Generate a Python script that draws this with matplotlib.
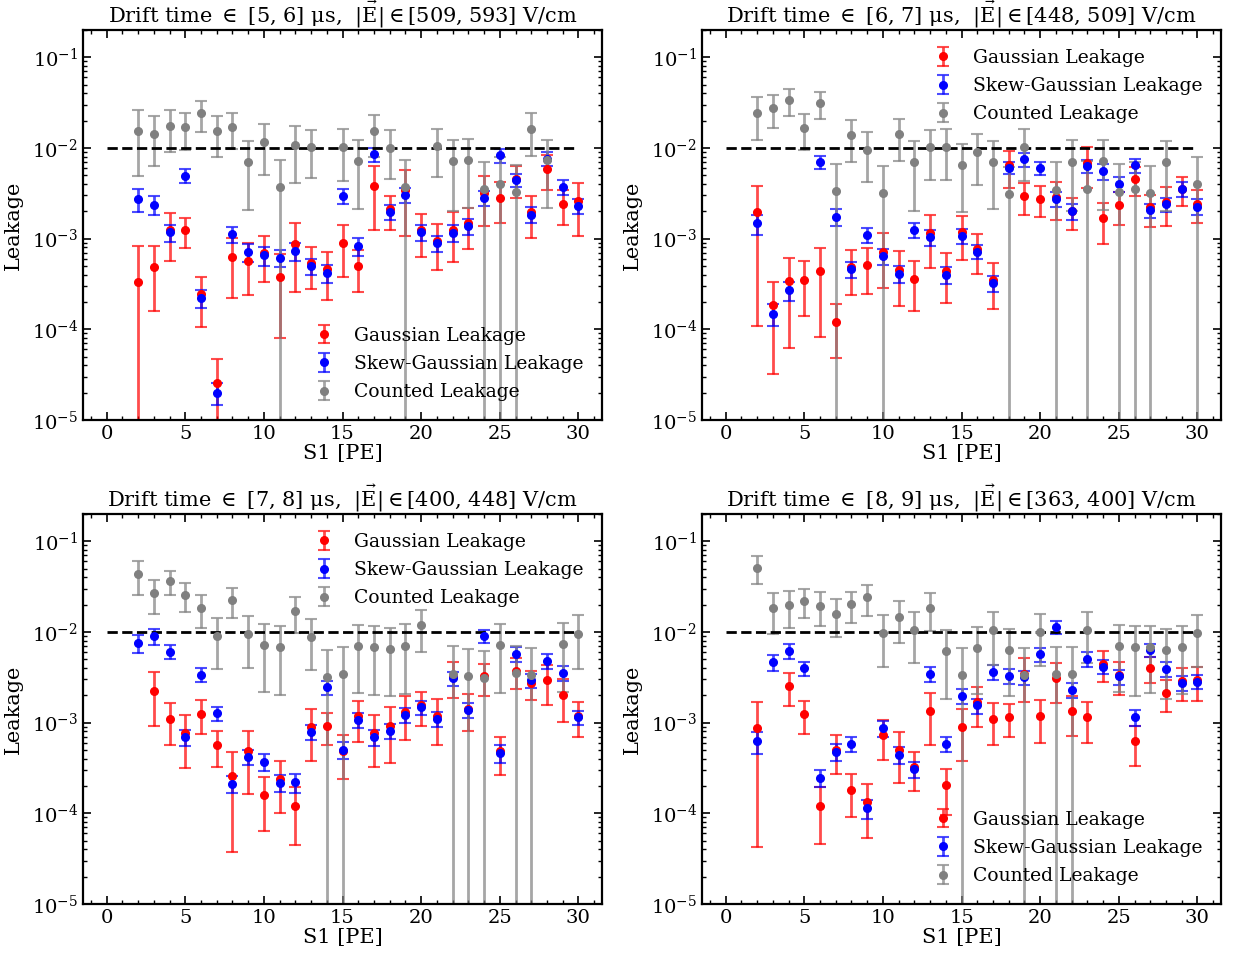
import numpy as np
import matplotlib
matplotlib.use('Agg')
import matplotlib.pyplot as plt
from matplotlib.ticker import MultipleLocator, LogLocator, NullFormatter

plt.rcParams['font.family'] = 'DejaVu Serif'
plt.rcParams['mathtext.fontset'] = 'dejavuserif'

s1 = np.arange(2, 31)
nan = np.nan

# drift time 5-6 us
gauss_56 = [3.3e-4, 4.9e-4, 1.24e-3, 1.24e-3, 2.44e-4, 2.55e-5, 6.2e-4, 5.7e-4, 6.95e-4, 3.8e-4,
            8.7e-4, 5.4e-4, 4.6e-4, 8.95e-4, 5.05e-4, 3.76e-3, 2.12e-3, 3.43e-3, 1.26e-3, 9.5e-4,
            1.25e-3, 1.47e-3, 3.15e-3, 2.84e-3, 4.6e-3, 1.98e-3, 5.9e-3, 2.4e-3, 2.57e-3]
gauss_56_err = [4.9e-4, 3.3e-4, 6.7e-4, 4.6e-4, 1.37e-4, 2.1e-5, 4.0e-4, 3.3e-4, 3.65e-4, 3.0e-4,
                6.1e-4, 2.65e-4, 2.5e-4, 5.2e-4, 2.45e-4, 2.5e-3, 8.6e-4, 2.35e-3, 6.3e-4, 5e-4,
                7e-4, 7.1e-4, 1.78e-3, 1.37e-3, 1.8e-3, 9.6e-4, 2.5e-3, 1e-3, 1.5e-3]
skew_56 = [2.73e-3, 2.37e-3, 1.175e-3, 4.97e-3, 2.21e-4, 2.01e-5, 1.117e-3, 7.19e-4, 6.56e-4, 6.18e-4,
           7.31e-4, 4.97e-4, 4.2e-4, 2.97e-3, 8.24e-4, 8.59e-3, 1.98e-3, 3.05e-3, 1.184e-3, 8.89e-4,
           1.164e-3, 1.377e-3, 2.84e-3, 8.3e-3, 4.45e-3, 1.84e-3, 7.63e-3, 3.73e-3, 2.31e-3]
skew_56_err = [7.7e-4, 5.5e-4, 2.5e-4, 8.7e-4, 5.1e-5, 5.5e-6, 2.3e-4, 1.6e-4, 1.52e-4, 1.37e-4,
               1.67e-4, 1.03e-4, 9.3e-5, 5.6e-4, 1.84e-4, 1.5e-3, 3.8e-4, 5.8e-4, 2.35e-4, 1.7e-4,
               2.35e-4, 2.8e-4, 5.2e-4, 1.5e-3, 7.4e-4, 3.7e-4, 1.35e-3, 7.3e-4, 4.5e-4]
count_56 = [0.0154, 0.0144, 0.0175, 0.017, 0.024, 0.0153, 0.0171, 6.95e-3, 0.0116, 3.73e-3,
            0.0107, 0.0103, nan, 0.0103, 7.1e-3, 0.0154, 0.0101, 3.73e-3, nan, 0.0104,
            7.2e-3, 7.4e-3, 3.54e-3, 3.99e-3, 3.26e-3, 0.0163, 7.3e-3, nan, nan]
count_56_err = [0.0105, 0.008, 0.0085, 0.0075, 0.009, 0.0073, 0.0073, 0.0049, 0.0066, 3.73e-3,
                0.0066, 0.0056, nan, 0.006, 0.005, 0.0075, 0.0055, 3.73e-3, nan, 0.0056,
                0.0052, 0.0052, 3.54e-3, 3.99e-3, 3.26e-3, 0.0081, 0.0051, nan, nan]

# drift time 6-7 us
gauss_67 = [1.98e-3, 1.84e-4, 3.37e-4, 3.51e-4, 4.38e-4, 1.2e-4, 4.92e-4, 5.18e-4, 7.19e-4, 4.53e-4,
            3.6e-4, 1.154e-3, 4.45e-4, 1.17e-3, 7.69e-4, 3.51e-4, 6.45e-3, 2.97e-3, 2.77e-3, 2.9e-3,
            2.03e-3, 6.9e-3, 1.67e-3, 2.34e-3, 4.53e-3, 2.21e-3, 2.55e-3, 3.52e-3, 2.44e-3]
gauss_67_err = [1.87e-3, 1.52e-4, 2.75e-4, 2.12e-4, 3.55e-4, 7.2e-5, 2.5e-4, 2.7e-4, 4.3e-4, 2.7e-4,
                2.02e-4, 6.75e-4, 2.5e-4, 5.9e-4, 3.63e-4, 1.85e-4, 2.8e-3, 1.13e-3, 1.02e-3, 1.29e-3,
                7.85e-4, 3.25e-3, 8e-4, 9.1e-4, 1.6e-3, 8.5e-4, 1.18e-3, 1.25e-3, 9.7e-4]
skew_67 = [1.47e-3, 1.49e-4, 2.69e-4, nan, 7.02e-3, 1.75e-3, 4.61e-4, 1.107e-3, 6.4e-4, 4.09e-4,
           1.256e-3, 1.035e-3, 4.02e-4, 1.08e-3, 7.19e-4, 3.23e-4, 6.08e-3, 7.5e-3, 5.98e-3, 2.73e-3,
           2.01e-3, 6.34e-3, 5.59e-3, 4.05e-3, 6.5e-3, 2.06e-3, 2.4e-3, 3.57e-3, 2.26e-3]
skew_67_err = [3.7e-4, 3.95e-5, 6.15e-5, nan, 1.22e-3, 3.65e-4, 9.7e-5, 2.2e-4, 1.26e-4, 8.5e-5,
               2.3e-4, 2e-4, 8.3e-5, 2e-4, 1.3e-4, 6.6e-5, 9.3e-4, 1.33e-3, 9.9e-4, 5.1e-4,
               3.85e-4, 1.07e-3, 1.1e-3, 7.6e-4, 1.14e-3, 3.7e-4, 4.3e-4, 6.6e-4, 4.55e-4]
count_67 = [0.0244, 0.0277, 0.0337, 0.0167, 0.031, 3.37e-3, 0.0138, 9.6e-3, 3.2e-3, 0.0141,
            6.95e-3, 0.0102, 0.0102, 6.5e-3, 9.03e-3, 7.0e-3, 3.1e-3, 0.0103, nan, 3.48e-3,
            7.08e-3, 3.57e-3, 7.2e-3, 3.31e-3, 3.52e-3, 3.18e-3, 6.95e-3, nan, 3.99e-3]
count_67_err = [0.012, 0.0111, 0.0112, 0.0072, 0.01, 3.37e-3, 0.0068, 0.0054, 3.2e-3, 0.007,
                4.95e-3, 0.00575, 0.0058, 0.00455, 0.0051, 0.00485, 3.1e-3, 0.00595, nan, 3.48e-3,
                5.05e-3, 3.57e-3, 5.15e-3, 3.31e-3, 3.52e-3, 3.18e-3, 4.95e-3, nan, 3.99e-3]

# drift time 7-8 us
gauss_78 = [nan, 2.25e-3, 1.107e-3, 7.69e-4, 1.256e-3, 5.64e-4, 2.57e-4, 4.84e-4, 1.59e-4, 2.4e-4,
            1.2e-4, 8.89e-4, 9.12e-4, 4.87e-4, 1.175e-3, 7.69e-4, 9.27e-4, 1.31e-3, 1.55e-3, 1.19e-3,
            3.23e-3, 1.425e-3, 3.23e-3, 4.84e-4, 3.73e-3, 2.73e-3, 2.97e-3, 2.03e-3, 1.19e-3]
gauss_78_err = [nan, 1.34e-3, 5.4e-4, 4.5e-4, 5e-4, 2.43e-4, 2.2e-4, 3.2e-4, 9.5e-5, 1.4e-4,
                7.5e-5, 5.15e-4, 3.5e-4, 2.47e-4, 5.6e-4, 4.45e-4, 5.7e-4, 6.6e-4, 6.2e-4, 6.3e-4,
                1.38e-3, 6.2e-4, 1.24e-3, 2.17e-4, 1.4e-3, 9.7e-4, 1.39e-3, 1.02e-3, 4.9e-4]
skew_78 = [7.57e-3, 9.03e-3, 6.08e-3, 6.95e-4, 3.37e-3, 1.276e-3, 2.12e-4, 4.2e-4, 3.7e-4, 2.17e-4,
           2.21e-4, 7.96e-4, 2.47e-3, 5.01e-4, 1.08e-3, 6.95e-4, 8.17e-4, 1.225e-3, 1.486e-3, 1.096e-3,
           3.1e-3, 1.39e-3, 9.12e-3, 4.65e-4, 5.72e-3, 2.92e-3, 4.84e-3, 3.57e-3, 1.145e-3]
skew_78_err = [1.78e-3, 1.8e-3, 1.08e-3, 1.38e-4, 5.9e-4, 2.26e-4, 4.6e-5, 8.3e-5, 8e-5, 4.6e-5,
               5.2e-5, 1.5e-4, 4.35e-4, 1.08e-4, 2.1e-4, 1.4e-4, 1.58e-4, 2.35e-4, 2.65e-4, 2e-4,
               5.5e-4, 2.6e-4, 1.5e-3, 1.02e-4, 1.03e-3, 5e-4, 9e-4, 6.85e-4, 2.1e-4]
count_78 = [0.0434, 0.0266, 0.0366, 0.0255, 0.0182, 9.12e-3, 0.0225, 9.59e-3, 7.26e-3, 6.79e-3,
            0.0171, 8.89e-3, 3.15e-3, 3.43e-3, 7.02e-3, 6.79e-3, 6.5e-3, 7.08e-3, 0.0118, nan,
            3.48e-3, 3.28e-3, 3.1e-3, 7.2e-3, 3.52e-3, 3.37e-3, nan, 7.38e-3, 9.59e-3]
count_78_err = [0.0176, 0.0107, 0.011, 0.0091, 0.0072, 5.2e-3, 8.3e-3, 5.6e-3, 5.1e-3, 4.75e-3,
                7.45e-3, 5.1e-3, 3.15e-3, 3.43e-3, 4.9e-3, 4.75e-3, 4.55e-3, 5.03e-3, 5.85e-3, nan,
                3.48e-3, 3.28e-3, 3.1e-3, 5.1e-3, 3.52e-3, 3.37e-3, nan, 5.2e-3, 5.65e-3]

# drift time 8-9 us
gauss_89 = [8.73e-4, nan, 2.51e-3, 1.245e-3, 1.2e-4, 5.05e-4, 1.8e-4, 1.33e-4, 7.26e-4, 5.05e-4,
            3.26e-4, 1.355e-3, 2.03e-4, 8.95e-4, 1.686e-3, 1.107e-3, 1.145e-3, 3.41e-3, 1.19e-3, 3.1e-3,
            1.333e-3, 1.145e-3, 4.45e-3, 3.34e-3, 6.24e-4, 4.05e-3, 2.12e-3, 2.9e-3, 2.95e-3]
gauss_89_err = [8.3e-4, nan, 9.9e-4, 4.9e-4, 7.45e-5, 2.32e-4, 8.9e-5, 7.9e-5, 3.4e-4, 2.9e-4,
                1.5e-4, 7.95e-4, 1.08e-4, 5.2e-4, 8e-4, 5.4e-4, 4.5e-4, 1.73e-3, 5.9e-4, 1.45e-3,
                6.25e-4, 5.55e-4, 1.66e-3, 1.31e-3, 2.95e-4, 1.31e-3, 8.1e-4, 1.15e-3, 1.2e-3]
skew_89 = [6.24e-4, 4.65e-3, 6.24e-3, 3.99e-3, 2.47e-4, 4.76e-4, 5.88e-4, 1.135e-4, 8.73e-4, 4.45e-4,
           3.05e-4, 3.43e-3, 5.88e-4, 1.98e-3, 1.55e-3, 3.66e-3, 3.28e-3, 3.18e-3, 5.72e-3, 0.01135,
           2.31e-3, 5.05e-3, 4.16e-3, 3.23e-3, 1.145e-3, 6.34e-3, 3.92e-3, 2.77e-3, 2.84e-3]
skew_89_err = [1.7e-4, 9e-4, 1.17e-3, 7.2e-4, 5.35e-5, 9.9e-5, 1.12e-4, 2.6e-5, 1.7e-4, 9.9e-5,
               6.1e-5, 6.5e-4, 1.12e-4, 3.7e-4, 2.9e-4, 6.9e-4, 6.2e-4, 5.7e-4, 1e-3, 1.8e-3,
               4.45e-4, 9.45e-4, 7.4e-4, 6e-4, 2.2e-4, 1.07e-3, 7.1e-4, 5.1e-4, 4.85e-4]
count_89 = [0.0514, 0.0182, 0.0198, 0.0221, 0.0195, 0.0159, 0.0201, 0.024, 9.75e-3, 0.01472,
            0.0106, 0.0185, 6.18e-3, 3.37e-3, 6.73e-3, 0.01052, 6.4e-3, 3.37e-3, 9.92e-3, 3.43e-3,
            3.43e-3, 0.0105, nan, 7.08e-3, 6.79e-3, 6.9e-3, 6.34e-3, 6.9e-3, 9.67e-3]
count_89_err = [0.0172, 8.6e-3, 8.7e-3, 8e-3, 7.8e-3, 7e-3, 7.5e-3, 9e-3, 5.6e-3, 7.1e-3,
                6e-3, 8.25e-3, 4.35e-3, 3.37e-3, 4.65e-3, 6.15e-3, 4.45e-3, 3.37e-3, 5.7e-3, 3.43e-3,
                3.43e-3, 6e-3, nan, 4.9e-3, 4.8e-3, 4.8e-3, 4.5e-3, 4.85e-3, 5.55e-3]

drift_bins = [(5, 6), (6, 7), (7, 8), (8, 9)]
field_bins = [(509, 593), (448, 509), (400, 448), (363, 400)]
legend_locs = ['lower right', 'upper right', 'upper right', 'lower right']

panels = [
    (gauss_56, gauss_56_err, skew_56, skew_56_err, count_56, count_56_err),
    (gauss_67, gauss_67_err, skew_67, skew_67_err, count_67, count_67_err),
    (gauss_78, gauss_78_err, skew_78, skew_78_err, count_78, count_78_err),
    (gauss_89, gauss_89_err, skew_89, skew_89_err, count_89, count_89_err),
]

W, H = 1233, 956
boxes = [(83, 30), (702, 30), (83, 514), (702, 514)]
ax_w, ax_h = 519, 390

fig = plt.figure(figsize=(W / 100, H / 100), dpi=100)


def draw_series(ax, y, err, color, label):
    y = np.asarray(y, dtype=float)
    err = np.asarray(err, dtype=float)
    # bars that reach zero are cut just above it so they run off the log axis
    lo = np.where(y - err <= 0, y * (1 - 1e-6), err)
    eb = ax.errorbar(s1, y, yerr=[lo, err], fmt='o', color=color, ms=5.5,
                     elinewidth=2, capsize=4, capthick=1.5, label=label)
    for art in list(eb[1]) + list(eb[2]):
        art.set_alpha(0.7)


for i, (g, ge, sk, ske, c, ce) in enumerate(panels):
    x0, y0 = boxes[i]
    ax = fig.add_axes([x0 / W, 1 - (y0 + ax_h) / H, ax_w / W, ax_h / H])

    draw_series(ax, g, ge, 'red', 'Gaussian Leakage')
    draw_series(ax, sk, ske, 'blue', 'Skew-Gaussian Leakage')
    draw_series(ax, c, ce, 'grey', 'Counted Leakage')
    ax.hlines(1e-2, 0, 30, colors='k', linestyles='--', lw=2)

    ax.set_yscale('log')
    ax.set_ylim(1e-5, 0.2)
    ax.set_xlim(-1.5, 31.5)
    ax.xaxis.set_major_locator(MultipleLocator(5))
    ax.xaxis.set_minor_locator(MultipleLocator(1))
    ax.yaxis.set_minor_locator(LogLocator(base=10, subs=np.arange(2, 10)))
    ax.yaxis.set_minor_formatter(NullFormatter())
    ax.tick_params(which='both', direction='in', top=True, right=True, labelsize=14)
    ax.tick_params(which='major', length=6, width=1.2)
    ax.tick_params(which='minor', length=3, width=1)
    for sp in ax.spines.values():
        sp.set_linewidth(1.6)

    d0, d1 = drift_bins[i]
    e0, e1 = field_bins[i]
    ax.set_title(r'Drift time $\in$ [%d, %d] μs,  $|\vec{\mathrm{E}}|\in$[%d, %d] V/cm'
                 % (d0, d1, e0, e1), fontsize=15, pad=4)
    ax.set_xlabel('S1 [PE]', fontsize=15, labelpad=1)
    ax.set_ylabel('Leakage', fontsize=15, labelpad=6)
    ax.legend(loc=legend_locs[i], frameon=False, fontsize=13.5, handletextpad=0.6,
              labelspacing=0.55, borderaxespad=0.6)

plt.savefig('out.png', dpi=100)
